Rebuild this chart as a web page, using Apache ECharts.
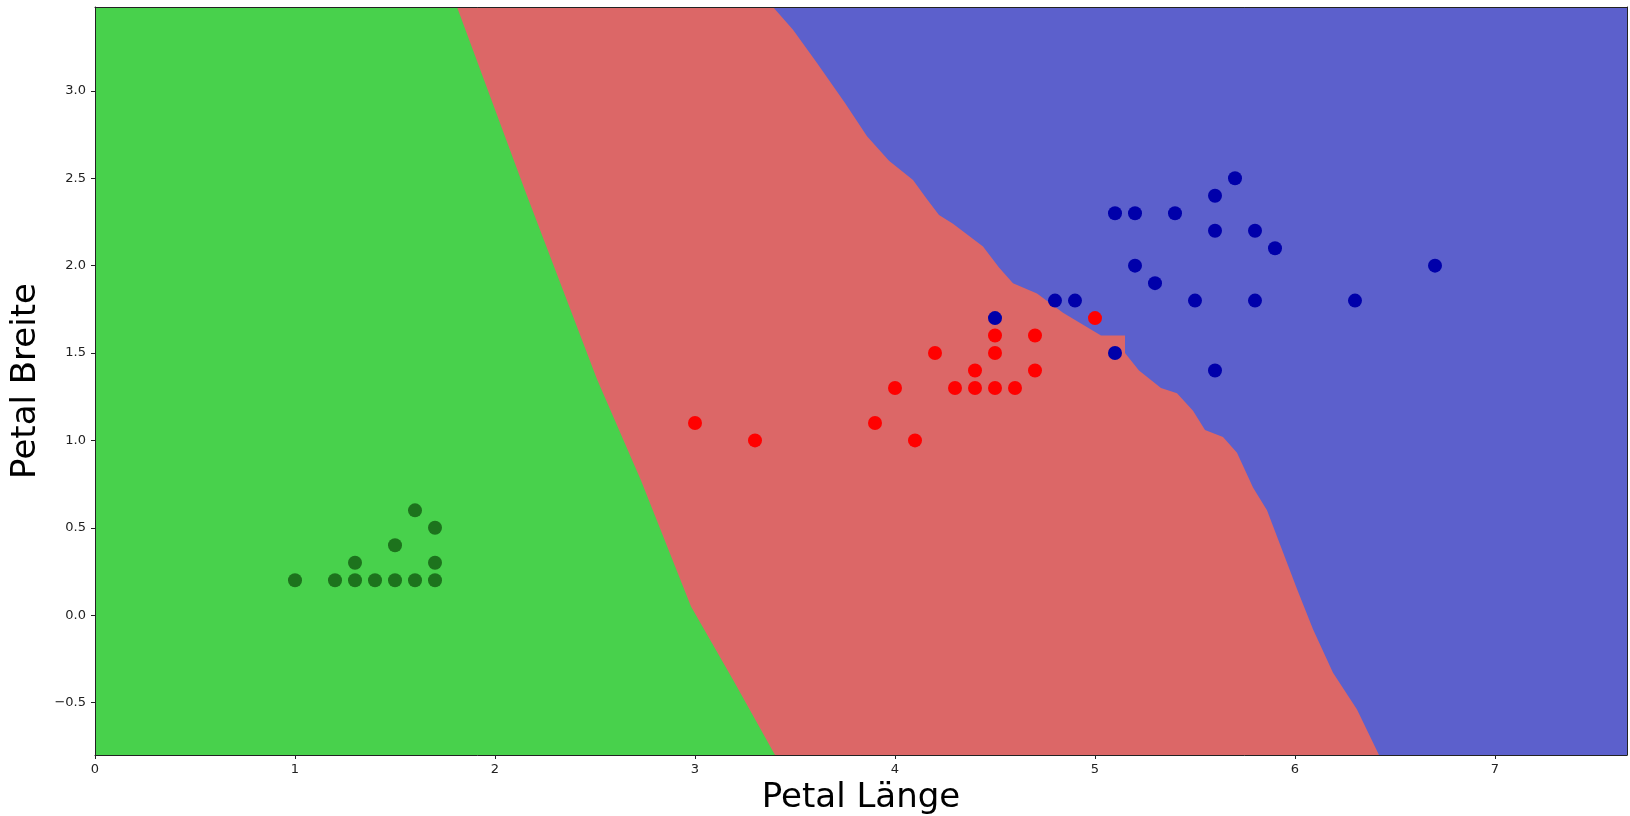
<!DOCTYPE html>
<html>
<head>
<meta charset="utf-8">
<script src="https://cdn.jsdelivr.net/npm/echarts@6/dist/echarts.min.js"></script>
<style>
html,body{margin:0;padding:0;background:#fff;}
#chart{width:1630px;height:816px;}
</style>
</head>
<body>
<div id="chart"></div>
<script>
// ---- axis extents & ticks ----
const xMin = 0, xMax = 7.66, yMin = -0.8, yMax = 3.48;
const xTicks = [0, 1, 2, 3, 4, 5, 6, 7];
const yTicks = [-0.5, 0, 0.5, 1.0, 1.5, 2.0, 2.5, 3.0];
const xLabel = 'Petal Länge';
const yLabel = 'Petal Breite';

// ---- decision boundaries ----
// green | red boundary, top to bottom
const greenRedX = [1.81, 2.15, 2.51, 2.73, 2.98, 3.19, 3.40];
const greenRedY = [3.48, 2.43, 1.35, 0.77, 0.05, -0.37, -0.80];
// red | blue boundary, top to bottom
const redBlueX = [3.39, 3.49, 3.61, 3.75, 3.86, 3.97, 4.09, 4.16, 4.22, 4.29, 4.44, 4.52, 4.59, 4.71, 4.84, 5.03, 5.15, 5.15, 5.22, 5.33, 5.41, 5.49, 5.55, 5.64, 5.71, 5.79, 5.86, 5.95, 6.01, 6.09, 6.19, 6.31, 6.42];
const redBlueY = [3.48, 3.35, 3.16, 2.93, 2.74, 2.60, 2.49, 2.38, 2.29, 2.24, 2.11, 1.99, 1.90, 1.84, 1.73, 1.60, 1.60, 1.50, 1.40, 1.30, 1.27, 1.17, 1.06, 1.02, 0.93, 0.73, 0.60, 0.33, 0.15, -0.08, -0.33, -0.54, -0.80];

// ---- scatter points ----
const setosaX = [1.0, 1.2, 1.3, 1.3, 1.4, 1.5, 1.5, 1.6, 1.6, 1.7, 1.7, 1.7];
const setosaY = [0.2, 0.2, 0.2, 0.3, 0.2, 0.2, 0.4, 0.2, 0.6, 0.2, 0.3, 0.5];
const versicolorX = [3.0, 3.3, 3.9, 4.0, 4.1, 4.2, 4.3, 4.4, 4.4, 4.5, 4.5, 4.5, 4.6, 4.7, 4.7, 5.0];
const versicolorY = [1.1, 1.0, 1.1, 1.3, 1.0, 1.5, 1.3, 1.3, 1.4, 1.3, 1.5, 1.6, 1.3, 1.4, 1.6, 1.7];
const virginicaX = [4.5, 4.8, 4.9, 5.1, 5.1, 5.2, 5.2, 5.3, 5.4, 5.5, 5.6, 5.6, 5.6, 5.7, 5.8, 5.8, 5.9, 6.3, 6.7];
const virginicaY = [1.7, 1.8, 1.8, 1.5, 2.3, 2.0, 2.3, 1.9, 2.3, 1.8, 1.4, 2.2, 2.4, 2.5, 1.8, 2.2, 2.1, 1.8, 2.0];

const regionColors = ['#48d14c', '#dc6767', '#5c60cc'];
const pointColors = ['#1d731d', '#ff0000', '#0000aa'];

function zip(xs, ys) { return xs.map((x, i) => [x, ys[i]]); }

function renderRegion(params, api) {
  const c = p => api.coord(p);
  let pts;
  if (params.dataIndex === 0) {
    pts = [[xMin, yMax], [xMax, yMax], [xMax, yMin], [xMin, yMin]];
  } else if (params.dataIndex === 1) {
    pts = zip(greenRedX, greenRedY).concat([[xMax, yMin], [xMax, yMax]]);
  } else {
    pts = zip(redBlueX, redBlueY).concat([[xMax, yMin], [xMax, yMax]]);
  }
  return {
    type: 'polygon',
    shape: { points: pts.map(c) },
    style: { fill: regionColors[params.dataIndex], stroke: null }
  };
}

const fmtY = v => (v < 0 ? '\u2212' : '') + Math.abs(v).toFixed(1);
const axisLineStyle = { show: true, onZero: false, lineStyle: { color: '#222', width: 1 } };

const chart = echarts.init(document.getElementById('chart'));
chart.setOption({
  animation: false,
  backgroundColor: '#fff',
  grid: { left: 95, top: 7, width: 1532, height: 748, outerBoundsMode: 'none', containLabel: false },
  xAxis: [{
    type: 'value', min: xMin, max: xMax, position: 'bottom', z: 10,
    name: xLabel, nameLocation: 'middle', nameGap: 25,
    nameTextStyle: { fontFamily: 'DejaVu Sans', fontSize: 34, color: '#000' },
    axisLine: axisLineStyle,
    axisTick: { show: true, length: 4, lineStyle: { color: '#222' }, customValues: xTicks },
    axisLabel: { customValues: xTicks, margin: 8, fontFamily: 'DejaVu Sans', fontSize: 13, color: '#222', formatter: v => String(v) },
    splitLine: { show: false }
  }, {
    type: 'value', min: xMin, max: xMax, position: 'top', z: 10,
    axisLine: axisLineStyle, axisTick: { show: false }, axisLabel: { show: false }, splitLine: { show: false }
  }],
  yAxis: [{
    type: 'value', min: yMin, max: yMax, position: 'left', z: 10,
    name: yLabel, nameLocation: 'middle', nameGap: 46, nameRotate: 90,
    nameTextStyle: { fontFamily: 'DejaVu Sans', fontSize: 34, color: '#000' },
    axisLine: axisLineStyle,
    axisTick: { show: true, length: 4, lineStyle: { color: '#222' }, customValues: yTicks },
    axisLabel: { customValues: yTicks, margin: 9, fontFamily: 'DejaVu Sans', fontSize: 13, color: '#222', formatter: fmtY },
    splitLine: { show: false }
  }, {
    type: 'value', min: yMin, max: yMax, position: 'right', z: 10,
    axisLine: axisLineStyle, axisTick: { show: false }, axisLabel: { show: false }, splitLine: { show: false }
  }],
  series: [
    {
      type: 'custom', clip: true, z: 1,
      renderItem: renderRegion,
      data: [[0], [1], [2]],
      silent: true
    },
    { type: 'scatter', z: 3, symbolSize: 14, itemStyle: { color: pointColors[0], opacity: 1 }, data: zip(setosaX, setosaY) },
    { type: 'scatter', z: 3, symbolSize: 14, itemStyle: { color: pointColors[1], opacity: 1 }, data: zip(versicolorX, versicolorY) },
    { type: 'scatter', z: 3, symbolSize: 14, itemStyle: { color: pointColors[2], opacity: 1 }, data: zip(virginicaX, virginicaY) }
  ]
});
</script>
</body>
</html>
